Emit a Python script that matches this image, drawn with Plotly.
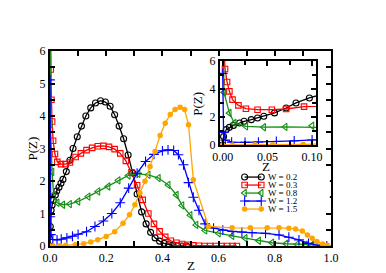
import plotly.graph_objects as go

# ---------------- data ----------------
W_values = [0.2, 0.3, 0.8, 1.2, 1.5]
legend_labels = ["W = %.1f" % w for w in W_values]

z_w02 = [0, 0.001, 0.004, 0.0075, 0.012, 0.019, 0.024, 0.032, 0.039, 0.046, 0.058,
         0.071, 0.082, 0.097, 0.112, 0.1275, 0.145, 0.162, 0.18, 0.197, 0.214, 0.23,
         0.246, 0.262, 0.278, 0.294, 0.31, 0.326, 0.342, 0.358, 0.374, 0.39, 0.406,
         0.422, 0.438, 0.454, 0.47, 0.486]
p_w02 = [0, 0.6, 1.1, 1.26, 1.4, 1.57, 1.69, 1.81, 1.93, 2.05, 2.29,
         2.64, 3.0, 3.36, 3.69, 4.0, 4.25, 4.4, 4.47, 4.43, 4.3, 4.04,
         3.69, 3.3, 2.8, 2.25, 1.6, 1.05, 0.68, 0.42, 0.25, 0.15, 0.08,
         0.04, 0.02, 0.01, 0.0, 0.0]

z_w03 = [0.001, 0.0026, 0.0049, 0.0075, 0.011, 0.0176, 0.026, 0.039, 0.055, 0.071,
         0.091, 0.11, 0.13, 0.15, 0.17, 0.19, 0.21, 0.23, 0.25, 0.27, 0.29, 0.31,
         0.33, 0.35, 0.37, 0.39, 0.41, 0.43, 0.45, 0.47, 0.49, 0.51, 0.53, 0.55,
         0.57, 0.59, 0.61, 0.63, 0.65, 0.665]
p_w03 = [7.5, 5.43, 4.5, 3.83, 3.24, 2.83, 2.59, 2.52, 2.52, 2.57,
         2.74, 2.85, 2.95, 3.02, 3.07, 3.08, 3.05, 2.98, 2.85, 2.62, 2.27, 1.87,
         1.42, 1.0, 0.68, 0.45, 0.28, 0.16, 0.1, 0.06, 0.04, 0.02, 0.01, 0.0,
         0.0, 0.0, 0.0, 0.0, 0.0, 0.0]

z_w08 = [0.0005, 0.0015, 0.0075, 0.013, 0.026, 0.046, 0.07, 0.1, 0.136, 0.171,
         0.207, 0.243, 0.279, 0.314, 0.35, 0.386, 0.421, 0.45, 0.47, 0.499, 0.52,
         0.552, 0.6, 0.648, 0.695, 0.743, 0.79, 0.84, 0.88, 0.91, 0.933]
p_w08 = [7.5, 3.75, 2.28, 1.57, 1.33, 1.27, 1.29, 1.37, 1.52, 1.68,
         1.83, 2.02, 2.17, 2.22, 2.19, 2.09, 1.88, 1.57, 1.25, 0.95, 0.65,
         0.48, 0.39, 0.31, 0.24, 0.16, 0.1, 0.07, 0.05, 0.04, 0.04]

z_w12 = [0, 0.001, 0.003, 0.01, 0.025, 0.04, 0.06, 0.08, 0.1, 0.13, 0.16, 0.19,
         0.22, 0.25, 0.28, 0.31, 0.34, 0.37, 0.4, 0.42, 0.44, 0.457, 0.475, 0.493,
         0.51, 0.53, 0.552, 0.582, 0.615, 0.648, 0.683, 0.719, 0.767, 0.815, 0.85,
         0.886, 0.92, 0.95, 0.985]
p_w12 = [5.11, 0.9, 0.35, 0.2, 0.19, 0.21, 0.25, 0.3, 0.36, 0.44, 0.6, 0.77,
         1.0, 1.33, 1.78, 2.24, 2.6, 2.82, 2.93, 2.96, 2.94, 2.81, 2.5, 1.95,
         1.5, 1.1, 0.68, 0.55, 0.49, 0.45, 0.43, 0.41, 0.39, 0.34, 0.27,
         0.19, 0.08, 0.03, 0.0]

z_w15 = [0, 0.011, 0.036, 0.056, 0.09, 0.12, 0.145, 0.17, 0.2, 0.23, 0.26, 0.283,
         0.302, 0.32, 0.338, 0.356, 0.374, 0.392, 0.41, 0.428, 0.445, 0.463, 0.479,
         0.493, 0.51, 0.564, 0.648, 0.713, 0.773, 0.815, 0.85, 0.874, 0.898, 0.916,
         0.933, 0.95, 0.97, 0.987]
p_w15 = [0.0, 0.0, 0.01, 0.02, 0.04, 0.07, 0.12, 0.19, 0.29, 0.44, 0.7, 0.96,
         1.27, 1.63, 1.99, 2.45, 2.91, 3.4, 3.78, 4.05, 4.2, 4.27, 4.2,
         3.73, 2.04, 0.6, 0.56, 0.56, 0.56, 0.56, 0.55, 0.52, 0.46, 0.34,
         0.24, 0.14, 0.06, 0.02]

series_z = [z_w02, z_w03, z_w08, z_w12, z_w15]
series_p = [p_w02, p_w03, p_w08, p_w12, p_w15]

colors = ["black", "red", "rgb(20,145,20)", "blue", "orange"]
symbols = ["circle-open", "square-open", "triangle-left-open", "cross-thin-open", "circle"]
sizes = [6, 5.5, 6.5, 7, 5.5]

FONT = "Liberation Serif, Times New Roman, serif"


def marker_for(i):
    if symbols[i] == "circle":
        return dict(symbol="circle", size=sizes[i], color=colors[i], line=dict(width=0))
    return dict(symbol=symbols[i], size=sizes[i], color=colors[i],
                line=dict(width=1.1, color=colors[i]))


fig = go.Figure()

# main panel
for i in range(5):
    fig.add_trace(go.Scatter(x=series_z[i], y=series_p[i], mode="lines+markers",
                             line=dict(color=colors[i], width=1.3),
                             marker=marker_for(i), showlegend=False,
                             xaxis="x", yaxis="y"))
# inset
for i in range(5):
    fig.add_trace(go.Scatter(x=series_z[i], y=series_p[i], mode="lines+markers",
                             line=dict(color=colors[i], width=1.3),
                             marker=marker_for(i), showlegend=False,
                             xaxis="x2", yaxis="y2"))
# custom compact legend
for i in range(5):
    fig.add_trace(go.Scatter(x=[0.052, 0.237], y=[i, i], mode="lines+markers",
                             line=dict(color=colors[i], width=1.3),
                             marker=marker_for(i), showlegend=False,
                             xaxis="x3", yaxis="y3", hoverinfo="skip"))
    fig.add_annotation(x=0.29, y=i, xref="x3", yref="y3", text=legend_labels[i],
                       showarrow=False, xanchor="left", yanchor="middle",
                       font=dict(family=FONT, size=9, color="black"))

axis_common = dict(showline=True, linewidth=2, linecolor="black", mirror="ticks",
                   ticks="inside", ticklen=5, tickwidth=1.5, tickcolor="black",
                   showgrid=False, zeroline=False,
                   tickfont=dict(family=FONT, size=12, color="black"))

fig.update_layout(
    width=386, height=273,
    margin=dict(l=42, r=63, t=43, b=35),
    paper_bgcolor="white", plot_bgcolor="white",
    xaxis=dict(domain=[0, 1], range=[0, 1], anchor="y",
               tickvals=[0, 0.2, 0.4, 0.6, 0.8, 1.0], tickformat=".1f",
               minor=dict(dtick=0.1, ticks="inside", ticklen=5, tickwidth=1.5,
                          tickcolor="black", showgrid=False),
               **axis_common),
    yaxis=dict(domain=[0, 1], range=[0, 6], anchor="x", dtick=1, tickformat="d",
               minor=dict(dtick=0.5, ticks="inside", ticklen=5, tickwidth=1.5,
                          tickcolor="black", showgrid=False),
               **axis_common),
    xaxis2=dict(domain=[0.605, 0.947], range=[-0.003, 0.1045], anchor="y2",
                tickvals=[0, 0.05, 0.1], tickformat=".2f",
                minor=dict(dtick=0.025, tick0=0, ticks="inside", ticklen=4, tickwidth=1.5,
                           tickcolor="black", showgrid=False),
                **axis_common),
    yaxis2=dict(domain=[0.518, 0.949], range=[0, 6], anchor="x2", dtick=2,
                tickformat="d",
                minor=dict(dtick=1, ticks="inside", ticklen=4, tickwidth=1.5,
                           tickcolor="black", showgrid=False),
                **axis_common),
    xaxis3=dict(domain=[0.676, 0.996], range=[0, 1], anchor="y3", visible=False,
                fixedrange=True),
    yaxis3=dict(domain=[0.169, 0.374], range=[4.5, -0.5], anchor="x3", visible=False,
                fixedrange=True),
)

label_font = dict(family=FONT, size=13, color="black")
fig.add_annotation(x=0.5, y=-0.1, xref="paper", yref="paper", text="Z",
                   showarrow=False, font=label_font, xanchor="center", yanchor="middle")
fig.add_annotation(x=-0.064, y=0.5, xref="paper", yref="paper", text="P(Z)",
                   showarrow=False, font=label_font, textangle=-90,
                   xanchor="center", yanchor="middle")
fig.add_annotation(x=0.77, y=0.41, xref="paper", yref="paper", text="Z",
                   showarrow=False, font=label_font, xanchor="center", yanchor="middle")
fig.add_annotation(x=0.527, y=0.73, xref="paper", yref="paper", text="P(Z)",
                   showarrow=False, font=label_font, textangle=-90,
                   xanchor="center", yanchor="middle")

fig.write_html("out.html")
